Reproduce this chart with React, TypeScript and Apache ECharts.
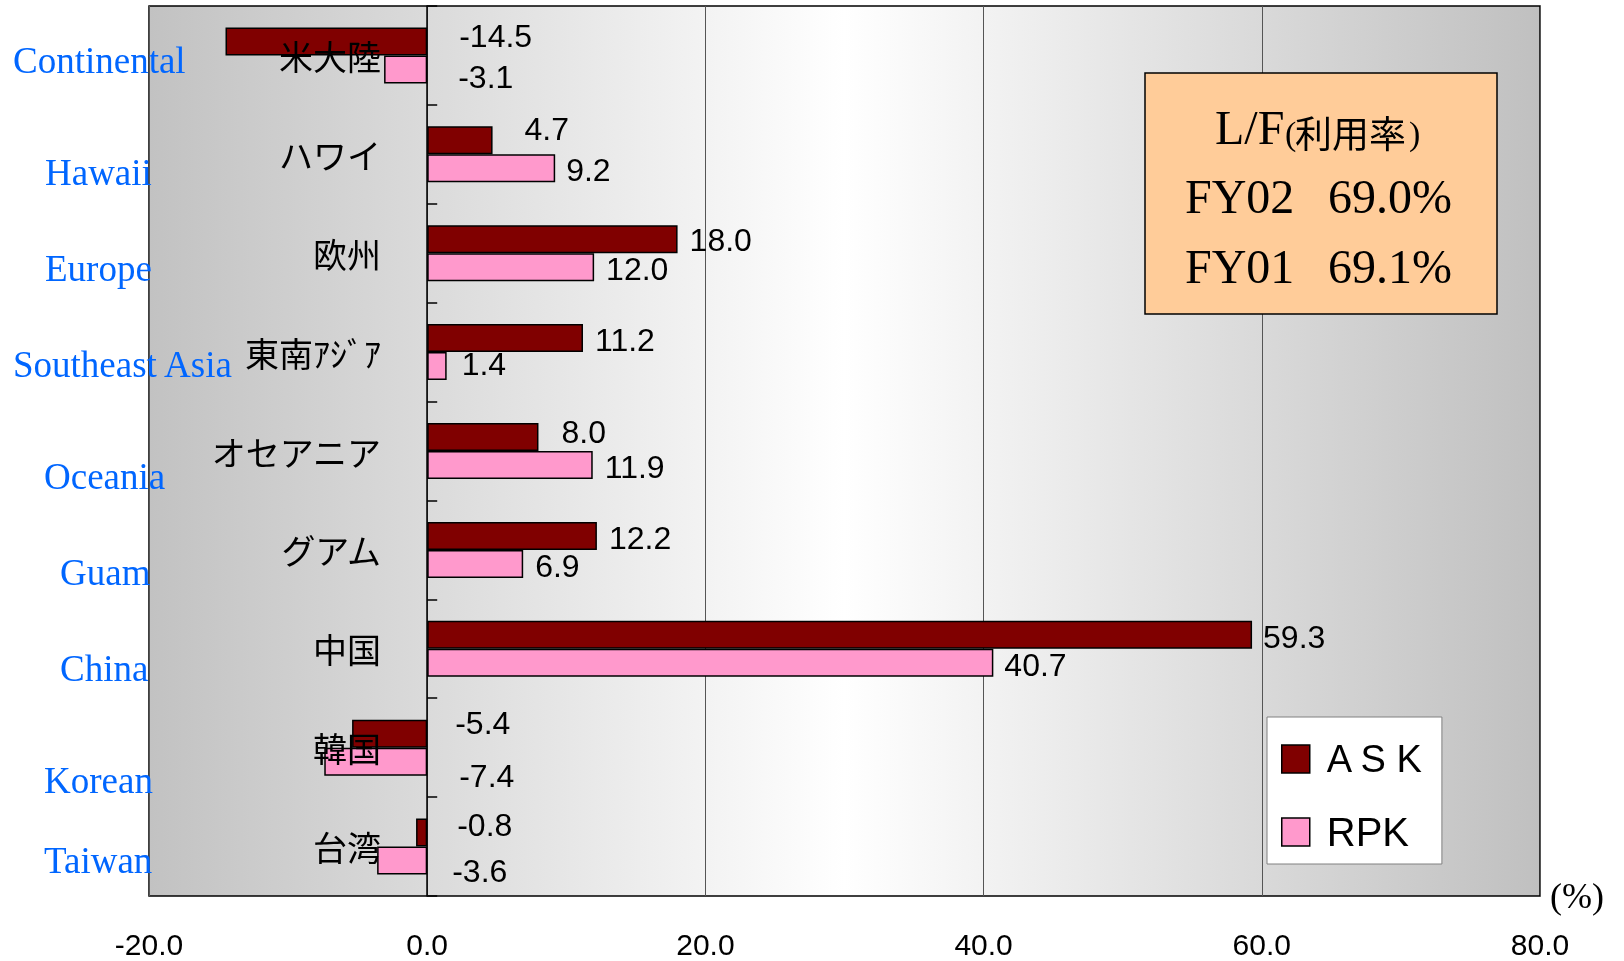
import React, { useEffect, useRef } from "react";
import * as echarts from "echarts";

const categoriesJa = ["米大陸", "ハワイ", "欧州", "東南ｱｼﾞｱ", "オセアニア", "グアム", "中国", "韓国", "台湾"];
const categoriesEn = ["Continental", "Hawaii", "Europe", "Southeast Asia", "Oceania", "Guam", "China", "Korean", "Taiwan"];
const askValues = [-14.5, 4.7, 18.0, 11.2, 8.0, 12.2, 59.3, -5.4, -0.8];
const rpkValues = [-3.1, 9.2, 12.0, 1.4, 11.9, 6.9, 40.7, -7.4, -3.6];
const seriesNames = ["ASK", "RPK"];
const lfYears = ["FY02", "FY01"];
const lfRates = [69.0, 69.1];
const xMin = -20;
const xMax = 80;
const xInterval = 20;

// layout only (label nudges and English caption positions)
const askLabelOffsets = [[27, -5], [27, -11], [7, 1], [7, 2], [18, -5], [7, 2], [6, 2], [23, -11], [25, -8]];
const rpkLabelOffsets = [[26, 8], [6, 2], [7, 2], [10, -2], [7, 2], [7, 2], [6, 2], [27, 14], [20, 10]];
const enPos = [[13, 60], [45, 172], [45, 268], [13, 364], [44, 476], [60, 572], [60, 668], [44, 780], [44, 860]];

const ASK_COLOR = "#800000";
const RPK_COLOR = "#ff99cc";
const SANS = "Liberation Sans, Arial, sans-serif";
const SERIF = "Liberation Serif, Times New Roman, serif";
const CJK = "Noto Sans CJK JP, sans-serif";

export default function App() {
  const ref = useRef<HTMLDivElement>(null);
  useEffect(() => {
    if (!ref.current) return;
    const chart = echarts.init(ref.current, null, { renderer: "svg" });
    const labelBase = {
      show: true,
      position: "right",
      distance: 5,
      fontSize: 32,
      fontFamily: SANS,
      color: "#000",
      formatter: (p: any) => Number(p.value).toFixed(1),
    };
    const graphics: any[] = [];
    categoriesEn.forEach((t, i) => {
      graphics.push({
        type: "text",
        x: enPos[i][0],
        y: enPos[i][1],
        z: 100,
        style: { text: t, fill: "#0066ff", fontSize: 37, fontFamily: SERIF, align: "left", verticalAlign: "middle" },
      });
    });
    graphics.push({
      type: "rect",
      shape: { x: 1145, y: 73, width: 352, height: 241 },
      z: 100,
      style: { fill: "#ffcc99", stroke: "#000", lineWidth: 1.5 },
    });
    graphics.push({ type: "text", x: 1215, y: 127, z: 101, style: { text: "L/F", fill: "#000", fontSize: 48, fontFamily: SERIF, align: "left", verticalAlign: "middle" } });
    graphics.push({ type: "text", x: 1285, y: 133, z: 101, style: { text: "(", fill: "#000", fontSize: 34, fontFamily: SERIF, align: "left", verticalAlign: "middle" } });
    graphics.push({ type: "text", x: 1295, y: 132, z: 101, style: { text: "利用率", fill: "#000", fontSize: 37, fontFamily: CJK, align: "left", verticalAlign: "middle" } });
    graphics.push({ type: "text", x: 1409, y: 133, z: 101, style: { text: ")", fill: "#000", fontSize: 34, fontFamily: SERIF, align: "left", verticalAlign: "middle" } });
    lfYears.forEach((y, i) => {
      const cy = 196 + i * 70;
      graphics.push({ type: "text", x: 1185, y: cy, z: 101, style: { text: y, fill: "#000", fontSize: 48, fontFamily: SERIF, align: "left", verticalAlign: "middle" } });
      graphics.push({ type: "text", x: 1328, y: cy, z: 101, style: { text: lfRates[i].toFixed(1) + "%", fill: "#000", fontSize: 48, fontFamily: SERIF, align: "left", verticalAlign: "middle" } });
    });

    chart.setOption({
      animation: false,
      grid: {
        left: 149,
        right: 84,
        top: 6,
        bottom: 65,
        containLabel: false,
        outerBoundsMode: "none",
        show: true,
        borderColor: "#000",
        borderWidth: 1.5,
        backgroundColor: new echarts.graphic.LinearGradient(0, 0, 1, 0, [
          { offset: 0, color: "#c2c2c2" },
          { offset: 0.5, color: "#ffffff" },
          { offset: 1, color: "#c0c0c0" },
        ]),
      },
      legend: {
        orient: "vertical",
        left: 1267,
        top: 717,
        backgroundColor: "#fff",
        borderColor: "#808080",
        borderWidth: 1,
        borderRadius: 0,
        padding: [23, 18, 12, 14],
        itemWidth: 28,
        itemHeight: 28,
        itemGap: 34,
        icon: "rect",
        formatter: (n: string) => (n === "ASK" ? "A S K" : n),
        textStyle: { fontFamily: SANS, fontSize: 40, lineHeight: 28, color: "#000", padding: [0, 0, 0, 12] },
        data: [
          { name: seriesNames[0], itemStyle: { color: ASK_COLOR, borderColor: "#000", borderWidth: 1.5 }, textStyle: { fontSize: 38 } },
          { name: seriesNames[1], itemStyle: { color: RPK_COLOR, borderColor: "#000", borderWidth: 1.5 } },
        ],
      },
      xAxis: {
        type: "value",
        min: xMin,
        max: xMax,
        interval: xInterval,
        name: "(%)",
        nameLocation: "end",
        nameGap: 10,
        nameTextStyle: { fontFamily: SERIF, fontSize: 36, color: "#000", align: "left", verticalAlign: "middle", padding: [10, 0, 0, 0] },
        axisLine: { show: false },
        axisTick: { show: false },
        axisLabel: { fontSize: 30, fontFamily: SANS, color: "#000", margin: 33, formatter: (v: number) => v.toFixed(1) },
        splitLine: { show: true, lineStyle: { color: "#555", width: 1 } },
      },
      yAxis: {
        type: "category",
        data: categoriesJa,
        inverse: true,
        z: 10,
        axisLine: { show: true, onZero: true, lineStyle: { color: "#000", width: 1.5 } },
        axisTick: { show: true, inside: true, length: 10, lineStyle: { color: "#000", width: 1.5 } },
        axisLabel: { fontSize: 34, fontFamily: CJK, color: "#000", margin: -232, align: "right" },
        splitLine: { show: false },
      },
      series: [
        {
          name: seriesNames[0],
          type: "bar",
          barWidth: 28,
          barGap: "0%",
          itemStyle: { color: ASK_COLOR, borderColor: "#000", borderWidth: 1.5 },
          label: labelBase,
          data: askValues.map((v, i) => ({ value: v, label: { offset: askLabelOffsets[i] } })),
        },
        {
          name: seriesNames[1],
          type: "bar",
          barWidth: 28,
          barGap: "0%",
          itemStyle: { color: RPK_COLOR, borderColor: "#000", borderWidth: 1.5 },
          label: labelBase,
          data: rpkValues.map((v, i) => ({ value: v, label: { offset: rpkLabelOffsets[i] } })),
        },
      ],
      graphic: graphics,
    });
    return () => chart.dispose();
  }, []);
  return <div ref={ref} style={{ position: "fixed", left: 0, top: 0, width: 1624, height: 961 }} />;
}
